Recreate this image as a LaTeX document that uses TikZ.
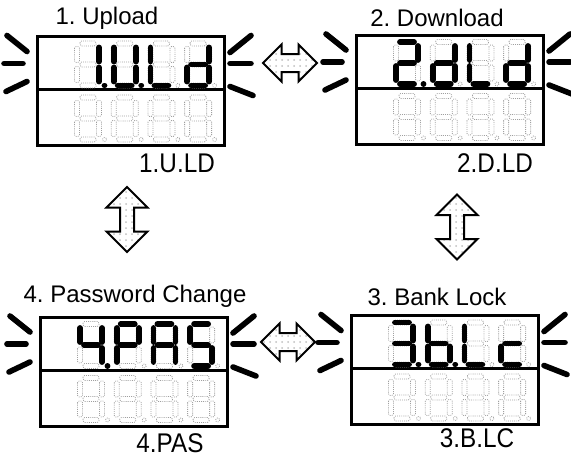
\documentclass[tikz,border=0pt]{standalone}
\usepackage{fontspec}
\setmainfont{Liberation Sans}
\newfontfamily\codefont[FakeStretch=0.9]{Liberation Sans}
\usepackage{tikz}
\usetikzlibrary{shapes.arrows, patterns, positioning}

\tikzstyle{lcdbox} = [rectangle, draw=black, line width=1.5pt,
outer sep=0pt, inner sep=0pt, minimum width=93.5pt, minimum height=54.5pt]
\tikzstyle{lcdframe} = [draw=black, line width=1.5pt]
\tikzstyle{segon} = [draw=black, line width=2.9pt, line cap=round]
\tikzstyle{segoff} = [draw=gray!75, line width=0.4pt,
dash pattern=on 0.45pt off 0.6pt, rounded corners=0.8pt]
\tikzstyle{blink} = [draw=black, line width=2.8pt, line cap=round]
\tikzstyle{title} = [font=\fontsize{12}{14}\selectfont, inner sep=0pt]
\tikzstyle{code} = [font=\codefont\fontsize{13.5}{16}\selectfont, inner sep=0pt]
\tikzstyle{swap} = [double arrow, draw=black, line width=1pt,
pattern=dots, pattern color=gray!50, inner xsep=0pt]
\tikzstyle{swaph} = [swap, inner ysep=4pt, double arrow head extend=4.75pt,
minimum height=27pt]
\tikzstyle{swapv} = [swap, rotate=90, inner ysep=3pt, double arrow head extend=6.75pt,
minimum height=32.5pt]

% one unlit digit, top left corner at (#1,#2)
\newcommand\lcdoff[2]{%
  \begin{scope}[shift={(#1,#2)}]
    \foreach \seg/\x/\y/\u/\v/\hx/\hy in {a/4/0/18/0/1/2.5, b/22/4/22/18/2.5/1,
      c/22/24/22/38/2.5/1, d/4/42/18/42/1/2.5, e/0/24/0/38/2.5/1,
      f/0/4/0/18/2.5/1, g/4/21/18/21/1/2.5}
    {
      \coordinate (\seg1) at (\x,\y);
      \coordinate (\seg2) at (\u,\v);
      \draw[segoff] (\x-\hx,\y-\hy) rectangle (\u+\hx,\v+\hy);
    }
    \coordinate (p1) at (27.5,42);
    \coordinate (p2) at (27.51,42);
    \draw[segoff] (p1) circle (2);
  \end{scope}}

% lit digit: corner (#1,#2), lit segments #3
\newcommand\lcdigit[3]{%
  \lcdoff{#1}{#2}
  \foreach \seg in {#3} \draw[segon] (\seg1) -- (\seg2);}

% panel #1: divider, digits #2..#5 on top, unlit row below, blink marks
\newcommand\lcdpanel[5]{%
  \draw[lcdframe] ([yshift=0.75pt]#1.west) -- ([yshift=0.75pt]#1.east);
  \begin{scope}[shift={(#1.north west)}]
    \lcdigit{40}{7}{#2}
    \lcdigit{76.7}{7}{#3}
    \lcdigit{113.4}{7}{#4}
    \lcdigit{150.1}{7}{#5}
    \foreach \k in {0,...,3} {\lcdoff{40+36.7*\k}{61}}
    \draw[blink] (-30,-1) -- (-10,15);
    \draw[blink] (-33,27) -- (-14,27);
    \draw[blink] (-31,55) -- (-10,45);
    \draw[blink] (193,16) -- (214,-1);
    \draw[blink] (193,27) -- (214,27);
    \draw[blink] (193,50) -- (216,59);
  \end{scope}}

\frenchspacing
\begin{document}
\begin{tikzpicture}[x=0.5pt, y=-0.5pt]
    \useasboundingbox (0,0) rectangle (571,456);

    \node (upl) [lcdbox] at (130.5,91) {};
    \node (dnl) [lcdbox] at (449.5,89.5) {};
    \node (pwd) [lcdbox] at (133.5,371.5) {};
    \node (bnk) [lcdbox] at (444.5,370) {};

    \lcdpanel{upl}{b,c,p}{b,c,d,e,f,p}{d,e,f}{b,c,d,e,g}
    \lcdpanel{dnl}{a,b,d,e,g,p}{b,c,d,e,g}{d,e,f}{b,c,d,e,g}
    \lcdpanel{pwd}{b,c,f,g,p}{a,b,e,f,g}{a,b,c,e,f,g}{a,c,d,f,g}
    \lcdpanel{bnk}{a,b,c,d,g,p}{c,d,e,f,g,p}{d,e,f}{d,e,g}

    \node (uplT) [title] at (107,18) {1. Upload};
    \node (dnlT) [title] at (437,18) {2. Download};
    \node (pwdT) [title] at (135,296) {4. Password Change};
    \node (bnkT) [title] at (437,297) {3. Bank Lock};

    \node (uplC) [code] at (177,163) {1.U.LD};
    \node (dnlC) [code] at (495,163) {2.D.LD};
    \node (pwdC) [code] at (170,443) {4.PAS};
    \node (bnkC) [code] at (477,438) {3.B.LC};

    \node (sw12) [swaph] at (290,63) {};
    \node (sw43) [swaph] at (288,342) {};
    \node (sw14) [swapv] at (127,219.5) {};
    \node (sw23) [swapv] at (457,227) {};
\end{tikzpicture}
\end{document}
